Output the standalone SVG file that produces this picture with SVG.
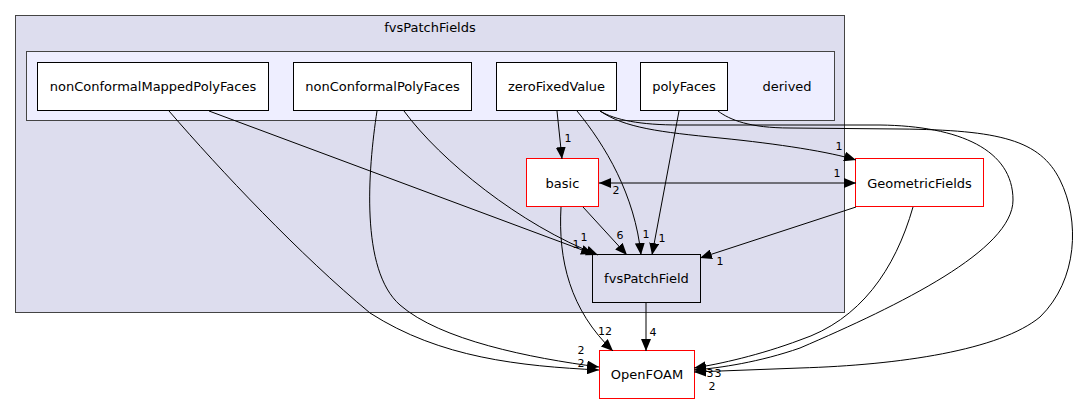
<svg xmlns="http://www.w3.org/2000/svg" width="1079" height="404" viewBox="0 0 1079 404">
<style>
text{font-family:"DejaVu Sans","Liberation Sans",sans-serif;fill:#000}
.n{font-size:13px;text-anchor:middle}
.l{font-size:11px;text-anchor:middle}
.box{fill:#fff;stroke:#000;stroke-width:1}
.red{fill:#fff;stroke:#f00;stroke-width:1}
.e{fill:none;stroke:#000;stroke-width:1;marker-end:url(#ah)}
</style>
<defs>
<marker id="ah" markerUnits="userSpaceOnUse" markerWidth="12" markerHeight="10" refX="12" refY="5" orient="auto-start-reverse" viewBox="0 0 12 10">
<path d="M0,0 L12,5 L0,10 z" fill="#000"/>
</marker>
</defs>
<rect width="1079" height="404" fill="#fff"/>
<g id="cluster_fvsPatchFields">
<rect x="15.5" y="15.5" width="829" height="297" fill="#ddddee" stroke="#444"/>
<text class="n" x="430" y="32">fvsPatchFields</text>
</g>
<g id="cluster_derived">
<rect x="26.5" y="51.5" width="808" height="69" fill="#eeeeff" stroke="#444"/>
<text class="n" x="787" y="91">derived</text>
</g>
<g id="node_nonConformalMappedPolyFaces">
<rect class="box" x="37.5" y="62.5" width="231" height="48"/>
<text class="n" x="153" y="91">nonConformalMappedPolyFaces</text>
</g>
<g id="node_nonConformalPolyFaces">
<rect class="box" x="293.5" y="62.5" width="178" height="48"/>
<text class="n" x="382.5" y="91">nonConformalPolyFaces</text>
</g>
<g id="node_zeroFixedValue">
<rect class="box" x="496.5" y="62.5" width="120" height="48"/>
<text class="n" x="556.5" y="91">zeroFixedValue</text>
</g>
<g id="node_polyFaces">
<rect class="box" x="640.5" y="62.5" width="87" height="48"/>
<text class="n" x="684" y="91">polyFaces</text>
</g>
<g id="node_basic">
<rect class="red" x="526.5" y="158.5" width="72" height="48"/>
<text class="n" x="562.5" y="187.5">basic</text>
</g>
<g id="node_fvsPatchField">
<rect x="592.5" y="254.5" width="108" height="48" fill="#ddddee" stroke="#000"/>
<text class="n" x="646.5" y="283">fvsPatchField</text>
</g>
<g id="node_GeometricFields">
<rect class="red" x="855.5" y="158.5" width="128" height="48"/>
<text class="n" x="919.5" y="187.5">GeometricFields</text>
</g>
<g id="node_OpenFOAM">
<rect class="red" x="599.5" y="350.5" width="95" height="48"/>
<text class="n" x="647" y="379">OpenFOAM</text>
</g>
<g id="connectors">
<path class="e" d="M169,111 C220,170 300,255 370,313 C440,358 520,366 599,370"/>
<path class="e" d="M209,111 L593,254"/>
<path class="e" d="M377,111 C368,170 360,270 400,305 C440,340 530,358 599,367"/>
<path class="e" d="M404,111 C440,160 520,225 598,255"/>
<path class="e" d="M557,111 L562,159"/>
<path class="e" d="M577,111 C605,145 635,195 641,255"/>
<path class="e" d="M600,111 C625,128 660,132 720,138 C780,144 830,152 856,160"/>
<path class="e" d="M600,111 C615,120 640,125 680,125 L880,125 C960,126 1013,150 1013,200 C1013,250 900,305 800,348 C760,362 720,368 694,370"/>
<path class="e" d="M718,111 C730,120 750,128 790,128 L900,129 C1000,130 1040,140 1060,180 C1080,220 1078,280 1040,317 C1000,350 900,365 800,368 L694,372"/>
<path class="e" d="M679,111 L652,255"/>
<path class="e" d="M599,183 L856,183" marker-start="url(#ah)"/>
<path class="e" d="M583,207 L627,255"/>
<path class="e" d="M561,207 C558,260 570,310 613,351"/>
<path class="e" d="M856,207 L700,258"/>
<path class="e" d="M913,207 C895,270 860,320 800,340 C760,355 720,364 694,368"/>
<path class="e" d="M646,302 L646,351"/>
</g>
<g id="edge_labels">
<text class="l" x="568" y="142">1</text>
<text class="l" x="839" y="150">1</text>
<text class="l" x="616" y="194">2</text>
<text class="l" x="837" y="177">1</text>
<text class="l" x="576" y="248">1</text>
<text class="l" x="584" y="241">1</text>
<text class="l" x="620" y="239">6</text>
<text class="l" x="646" y="238">1</text>
<text class="l" x="662" y="242">1</text>
<text class="l" x="720" y="265">1</text>
<text class="l" x="605" y="335">12</text>
<text class="l" x="653" y="336">4</text>
<text class="l" x="581" y="354">2</text>
<text class="l" x="581" y="367">2</text>
<text class="l" x="710" y="377">3</text>
<text class="l" x="718" y="377">3</text>
<text class="l" x="712" y="390">2</text>
</g>
</svg>
